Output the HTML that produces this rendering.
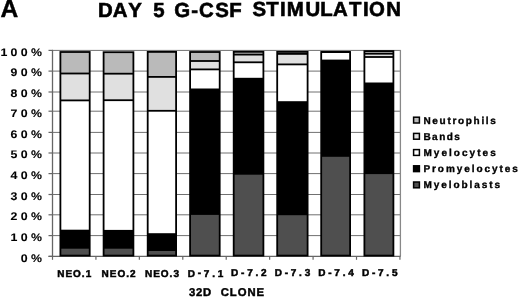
<!DOCTYPE html><html><head><meta charset="utf-8"><style>
html,body{margin:0;padding:0;background:#fff;width:520px;height:297px;overflow:hidden}
svg{display:block;will-change:transform}
text{font-family:"Liberation Sans",sans-serif;font-weight:bold;fill:#000;text-rendering:geometricPrecision}
</style></head><body>
<svg width="520" height="297" viewBox="0 0 520 297">
<line x1="52.5" y1="235.60" x2="400" y2="235.60" stroke="#707070" stroke-width="1.0"/>
<line x1="52.5" y1="214.80" x2="400" y2="214.80" stroke="#707070" stroke-width="1.0"/>
<line x1="52.5" y1="194.50" x2="400" y2="194.50" stroke="#707070" stroke-width="1.0"/>
<line x1="52.5" y1="173.60" x2="400" y2="173.60" stroke="#707070" stroke-width="1.0"/>
<line x1="52.5" y1="153.00" x2="400" y2="153.00" stroke="#707070" stroke-width="1.0"/>
<line x1="52.5" y1="132.40" x2="400" y2="132.40" stroke="#707070" stroke-width="1.0"/>
<line x1="52.5" y1="111.20" x2="400" y2="111.20" stroke="#707070" stroke-width="1.0"/>
<line x1="52.5" y1="92.00" x2="400" y2="92.00" stroke="#707070" stroke-width="1.0"/>
<line x1="52.5" y1="71.10" x2="400" y2="71.10" stroke="#707070" stroke-width="1.0"/>
<line x1="52.5" y1="50.40" x2="400" y2="50.40" stroke="#707070" stroke-width="1.0"/>
<line x1="400.4" y1="49.90" x2="400.4" y2="256.4" stroke="#888" stroke-width="1.3"/>
<line x1="48.5" y1="256.40" x2="52.5" y2="256.40" stroke="#666" stroke-width="1.2"/>
<line x1="48.5" y1="235.60" x2="52.5" y2="235.60" stroke="#666" stroke-width="1.2"/>
<line x1="48.5" y1="214.80" x2="52.5" y2="214.80" stroke="#666" stroke-width="1.2"/>
<line x1="48.5" y1="194.50" x2="52.5" y2="194.50" stroke="#666" stroke-width="1.2"/>
<line x1="48.5" y1="173.60" x2="52.5" y2="173.60" stroke="#666" stroke-width="1.2"/>
<line x1="48.5" y1="153.00" x2="52.5" y2="153.00" stroke="#666" stroke-width="1.2"/>
<line x1="48.5" y1="132.40" x2="52.5" y2="132.40" stroke="#666" stroke-width="1.2"/>
<line x1="48.5" y1="111.20" x2="52.5" y2="111.20" stroke="#666" stroke-width="1.2"/>
<line x1="48.5" y1="92.00" x2="52.5" y2="92.00" stroke="#666" stroke-width="1.2"/>
<line x1="48.5" y1="71.10" x2="52.5" y2="71.10" stroke="#666" stroke-width="1.2"/>
<line x1="48.5" y1="50.40" x2="52.5" y2="50.40" stroke="#666" stroke-width="1.2"/>
<line x1="52.5" y1="49.80" x2="52.5" y2="256.8" stroke="#666" stroke-width="1.3"/>
<line x1="48.5" y1="256.4" x2="400.6" y2="256.4" stroke="#666" stroke-width="1.3"/>
<line x1="52.50" y1="256.4" x2="52.50" y2="259.8" stroke="#666" stroke-width="1.2"/>
<line x1="95.93" y1="256.4" x2="95.93" y2="259.8" stroke="#666" stroke-width="1.2"/>
<line x1="139.36" y1="256.4" x2="139.36" y2="259.8" stroke="#666" stroke-width="1.2"/>
<line x1="182.79" y1="256.4" x2="182.79" y2="259.8" stroke="#666" stroke-width="1.2"/>
<line x1="226.22" y1="256.4" x2="226.22" y2="259.8" stroke="#666" stroke-width="1.2"/>
<line x1="269.65" y1="256.4" x2="269.65" y2="259.8" stroke="#666" stroke-width="1.2"/>
<line x1="313.08" y1="256.4" x2="313.08" y2="259.8" stroke="#666" stroke-width="1.2"/>
<line x1="356.51" y1="256.4" x2="356.51" y2="259.8" stroke="#666" stroke-width="1.2"/>
<line x1="399.94" y1="256.4" x2="399.94" y2="259.8" stroke="#666" stroke-width="1.2"/>
<rect x="60.40" y="52.00" width="29.30" height="21.50" fill="#bababa"/>
<rect x="60.40" y="73.50" width="29.30" height="26.90" fill="#e0e0e0"/>
<rect x="60.40" y="100.40" width="29.30" height="130.20" fill="#ffffff"/>
<rect x="60.40" y="230.60" width="29.30" height="17.20" fill="#000"/>
<rect x="60.40" y="247.80" width="29.30" height="7.80" fill="#4f4f4f"/>
<line x1="60.40" y1="73.50" x2="89.70" y2="73.50" stroke="#000" stroke-width="1.8"/>
<line x1="60.40" y1="100.40" x2="89.70" y2="100.40" stroke="#000" stroke-width="1.8"/>
<line x1="60.40" y1="230.60" x2="89.70" y2="230.60" stroke="#000" stroke-width="1.8"/>
<line x1="60.40" y1="247.80" x2="89.70" y2="247.80" stroke="#000" stroke-width="1.8"/>
<rect x="60.40" y="52.00" width="29.30" height="203.60" fill="none" stroke="#000" stroke-width="1.8"/>
<rect x="103.60" y="52.20" width="29.80" height="21.50" fill="#bababa"/>
<rect x="103.60" y="73.70" width="29.80" height="26.50" fill="#e0e0e0"/>
<rect x="103.60" y="100.20" width="29.80" height="130.60" fill="#ffffff"/>
<rect x="103.60" y="230.80" width="29.80" height="17.00" fill="#000"/>
<rect x="103.60" y="247.80" width="29.80" height="7.80" fill="#4f4f4f"/>
<line x1="103.60" y1="73.70" x2="133.40" y2="73.70" stroke="#000" stroke-width="1.8"/>
<line x1="103.60" y1="100.20" x2="133.40" y2="100.20" stroke="#000" stroke-width="1.8"/>
<line x1="103.60" y1="230.80" x2="133.40" y2="230.80" stroke="#000" stroke-width="1.8"/>
<line x1="103.60" y1="247.80" x2="133.40" y2="247.80" stroke="#000" stroke-width="1.8"/>
<rect x="103.60" y="52.20" width="29.80" height="203.40" fill="none" stroke="#000" stroke-width="1.8"/>
<rect x="147.70" y="51.90" width="28.40" height="25.00" fill="#bababa"/>
<rect x="147.70" y="76.90" width="28.40" height="33.90" fill="#e0e0e0"/>
<rect x="147.70" y="110.80" width="28.40" height="123.30" fill="#ffffff"/>
<rect x="147.70" y="234.10" width="28.40" height="16.00" fill="#000"/>
<rect x="147.70" y="250.10" width="28.40" height="5.50" fill="#4f4f4f"/>
<line x1="147.70" y1="76.90" x2="176.10" y2="76.90" stroke="#000" stroke-width="1.8"/>
<line x1="147.70" y1="110.80" x2="176.10" y2="110.80" stroke="#000" stroke-width="1.8"/>
<line x1="147.70" y1="234.10" x2="176.10" y2="234.10" stroke="#000" stroke-width="1.8"/>
<line x1="147.70" y1="250.10" x2="176.10" y2="250.10" stroke="#000" stroke-width="1.8"/>
<rect x="147.70" y="51.90" width="28.40" height="203.70" fill="none" stroke="#000" stroke-width="1.8"/>
<rect x="190.10" y="52.00" width="29.60" height="9.00" fill="#bababa"/>
<rect x="190.10" y="61.00" width="29.60" height="8.40" fill="#e0e0e0"/>
<rect x="190.10" y="69.40" width="29.60" height="20.00" fill="#ffffff"/>
<rect x="190.10" y="89.40" width="29.60" height="124.60" fill="#000"/>
<rect x="190.10" y="214.00" width="29.60" height="41.60" fill="#4f4f4f"/>
<line x1="190.10" y1="61.00" x2="219.70" y2="61.00" stroke="#000" stroke-width="1.8"/>
<line x1="190.10" y1="69.40" x2="219.70" y2="69.40" stroke="#000" stroke-width="1.8"/>
<line x1="190.10" y1="89.40" x2="219.70" y2="89.40" stroke="#000" stroke-width="1.8"/>
<line x1="190.10" y1="214.00" x2="219.70" y2="214.00" stroke="#000" stroke-width="1.8"/>
<rect x="190.10" y="52.00" width="29.60" height="203.60" fill="none" stroke="#000" stroke-width="1.8"/>
<rect x="233.70" y="51.80" width="29.70" height="2.80" fill="#bababa"/>
<rect x="233.70" y="54.60" width="29.70" height="7.70" fill="#e0e0e0"/>
<rect x="233.70" y="62.30" width="29.70" height="16.40" fill="#ffffff"/>
<rect x="233.70" y="78.70" width="29.70" height="95.10" fill="#000"/>
<rect x="233.70" y="173.80" width="29.70" height="81.80" fill="#4f4f4f"/>
<line x1="233.70" y1="54.60" x2="263.40" y2="54.60" stroke="#000" stroke-width="1.8"/>
<line x1="233.70" y1="62.30" x2="263.40" y2="62.30" stroke="#000" stroke-width="1.8"/>
<line x1="233.70" y1="78.70" x2="263.40" y2="78.70" stroke="#000" stroke-width="1.8"/>
<line x1="233.70" y1="173.80" x2="263.40" y2="173.80" stroke="#000" stroke-width="1.8"/>
<rect x="233.70" y="51.80" width="29.70" height="203.80" fill="none" stroke="#000" stroke-width="1.8"/>
<rect x="277.20" y="51.90" width="30.40" height="2.00" fill="#bababa"/>
<rect x="277.20" y="53.90" width="30.40" height="10.50" fill="#e0e0e0"/>
<rect x="277.20" y="64.40" width="30.40" height="37.70" fill="#ffffff"/>
<rect x="277.20" y="102.10" width="30.40" height="112.20" fill="#000"/>
<rect x="277.20" y="214.30" width="30.40" height="41.30" fill="#4f4f4f"/>
<line x1="277.20" y1="53.90" x2="307.60" y2="53.90" stroke="#000" stroke-width="1.8"/>
<line x1="277.20" y1="64.40" x2="307.60" y2="64.40" stroke="#000" stroke-width="1.8"/>
<line x1="277.20" y1="102.10" x2="307.60" y2="102.10" stroke="#000" stroke-width="1.8"/>
<line x1="277.20" y1="214.30" x2="307.60" y2="214.30" stroke="#000" stroke-width="1.8"/>
<rect x="277.20" y="51.90" width="30.40" height="203.70" fill="none" stroke="#000" stroke-width="1.8"/>
<rect x="321.20" y="52.00" width="28.90" height="8.50" fill="#ffffff"/>
<rect x="321.20" y="60.50" width="28.90" height="95.40" fill="#000"/>
<rect x="321.20" y="155.90" width="28.90" height="99.70" fill="#4f4f4f"/>
<line x1="321.20" y1="52.00" x2="350.10" y2="52.00" stroke="#000" stroke-width="1.8"/>
<line x1="321.20" y1="52.00" x2="350.10" y2="52.00" stroke="#000" stroke-width="1.8"/>
<line x1="321.20" y1="60.50" x2="350.10" y2="60.50" stroke="#000" stroke-width="1.8"/>
<line x1="321.20" y1="155.90" x2="350.10" y2="155.90" stroke="#000" stroke-width="1.8"/>
<rect x="321.20" y="52.00" width="28.90" height="203.60" fill="none" stroke="#000" stroke-width="1.8"/>
<rect x="364.40" y="51.10" width="29.00" height="2.60" fill="#bababa"/>
<rect x="364.40" y="53.70" width="29.00" height="3.30" fill="#e0e0e0"/>
<rect x="364.40" y="57.00" width="29.00" height="26.40" fill="#ffffff"/>
<rect x="364.40" y="83.40" width="29.00" height="89.80" fill="#000"/>
<rect x="364.40" y="173.20" width="29.00" height="82.40" fill="#4f4f4f"/>
<line x1="364.40" y1="53.70" x2="393.40" y2="53.70" stroke="#000" stroke-width="1.8"/>
<line x1="364.40" y1="57.00" x2="393.40" y2="57.00" stroke="#000" stroke-width="1.8"/>
<line x1="364.40" y1="83.40" x2="393.40" y2="83.40" stroke="#000" stroke-width="1.8"/>
<line x1="364.40" y1="173.20" x2="393.40" y2="173.20" stroke="#000" stroke-width="1.8"/>
<rect x="364.40" y="51.10" width="29.00" height="204.50" fill="none" stroke="#000" stroke-width="1.8"/>
<text transform="translate(45.36,261.70) scale(1.12,1)" x="0" y="0" text-anchor="end" style="font-size:11.0px;letter-spacing:3.0px" stroke="#000" stroke-width="0.1">0%</text>
<text transform="translate(45.36,240.90) scale(1.12,1)" x="0" y="0" text-anchor="end" style="font-size:11.0px;letter-spacing:3.0px" stroke="#000" stroke-width="0.1">10%</text>
<text transform="translate(45.36,220.10) scale(1.12,1)" x="0" y="0" text-anchor="end" style="font-size:11.0px;letter-spacing:3.0px" stroke="#000" stroke-width="0.1">20%</text>
<text transform="translate(45.36,199.80) scale(1.12,1)" x="0" y="0" text-anchor="end" style="font-size:11.0px;letter-spacing:3.0px" stroke="#000" stroke-width="0.1">30%</text>
<text transform="translate(45.36,178.90) scale(1.12,1)" x="0" y="0" text-anchor="end" style="font-size:11.0px;letter-spacing:3.0px" stroke="#000" stroke-width="0.1">40%</text>
<text transform="translate(45.36,158.30) scale(1.12,1)" x="0" y="0" text-anchor="end" style="font-size:11.0px;letter-spacing:3.0px" stroke="#000" stroke-width="0.1">50%</text>
<text transform="translate(45.36,137.70) scale(1.12,1)" x="0" y="0" text-anchor="end" style="font-size:11.0px;letter-spacing:3.0px" stroke="#000" stroke-width="0.1">60%</text>
<text transform="translate(45.36,116.50) scale(1.12,1)" x="0" y="0" text-anchor="end" style="font-size:11.0px;letter-spacing:3.0px" stroke="#000" stroke-width="0.1">70%</text>
<text transform="translate(45.36,97.30) scale(1.12,1)" x="0" y="0" text-anchor="end" style="font-size:11.0px;letter-spacing:3.0px" stroke="#000" stroke-width="0.1">80%</text>
<text transform="translate(45.36,76.40) scale(1.12,1)" x="0" y="0" text-anchor="end" style="font-size:11.0px;letter-spacing:3.0px" stroke="#000" stroke-width="0.1">90%</text>
<text transform="translate(45.36,55.70) scale(1.12,1)" x="0" y="0" text-anchor="end" style="font-size:11.0px;letter-spacing:3.0px" stroke="#000" stroke-width="0.1">100%</text>
<text x="74.72" y="277.10" text-anchor="middle" style="font-size:10px;letter-spacing:1.0px" stroke="#000" stroke-width="0.5">NEO.1</text>
<text x="119.05" y="276.94" text-anchor="middle" style="font-size:10px;letter-spacing:1.0px" stroke="#000" stroke-width="0.5">NEO.2</text>
<text x="162.47" y="276.78" text-anchor="middle" style="font-size:10px;letter-spacing:1.0px" stroke="#000" stroke-width="0.5">NEO.3</text>
<text x="206.88" y="276.63" text-anchor="middle" style="font-size:10px;letter-spacing:2.75px" stroke="#000" stroke-width="0.5">D<tspan dy="-0.4">-</tspan><tspan dy="0.4">7.1</tspan></text>
<text x="250.21" y="276.47" text-anchor="middle" style="font-size:10px;letter-spacing:2.75px" stroke="#000" stroke-width="0.5">D<tspan dy="-0.4">-</tspan><tspan dy="0.4">7.2</tspan></text>
<text x="293.84" y="276.31" text-anchor="middle" style="font-size:10px;letter-spacing:2.75px" stroke="#000" stroke-width="0.5">D<tspan dy="-0.4">-</tspan><tspan dy="0.4">7.3</tspan></text>
<text x="337.37" y="276.16" text-anchor="middle" style="font-size:10px;letter-spacing:2.75px" stroke="#000" stroke-width="0.5">D<tspan dy="-0.4">-</tspan><tspan dy="0.4">7.4</tspan></text>
<text x="381.10" y="276.00" text-anchor="middle" style="font-size:10px;letter-spacing:2.75px" stroke="#000" stroke-width="0.5">D<tspan dy="-0.4">-</tspan><tspan dy="0.4">7.5</tspan></text>
<text x="189" y="295.9" style="font-size:11.3px;letter-spacing:0.75px" stroke="#000" stroke-width="0.45">32D</text>
<text x="220.7" y="295.9" style="font-size:11.3px;letter-spacing:0.95px" stroke="#000" stroke-width="0.45">CLONE</text>
<text x="98.03" y="16.91" style="font-size:20.4px" stroke="#000" stroke-width="0.6">D</text>
<text x="112.69" y="16.86" style="font-size:20.4px" stroke="#000" stroke-width="0.6">A</text>
<text x="128.15" y="16.81" style="font-size:20.4px" stroke="#000" stroke-width="0.6">Y</text>
<text x="153.37" y="16.73" style="font-size:20.4px" stroke="#000" stroke-width="0.6">5</text>
<text x="174.26" y="16.67" style="font-size:20.4px" stroke="#000" stroke-width="0.6">G</text>
<text x="191.20" y="16.62" style="font-size:20.4px" stroke="#000" stroke-width="0.6">-</text>
<text x="199.06" y="16.59" style="font-size:20.4px" stroke="#000" stroke-width="0.6">C</text>
<text x="215.21" y="16.54" style="font-size:20.4px" stroke="#000" stroke-width="0.6">S</text>
<text x="229.33" y="16.50" style="font-size:20.4px" stroke="#000" stroke-width="0.6">F</text>
<text x="252.51" y="16.43" style="font-size:20.4px" stroke="#000" stroke-width="0.6">S</text>
<text x="266.33" y="16.38" style="font-size:20.4px" stroke="#000" stroke-width="0.6">T</text>
<text x="280.03" y="16.34" style="font-size:20.4px" stroke="#000" stroke-width="0.6">I</text>
<text x="286.83" y="16.32" style="font-size:20.4px" stroke="#000" stroke-width="0.6">M</text>
<text x="305.38" y="16.26" style="font-size:20.4px" stroke="#000" stroke-width="0.6">U</text>
<text x="320.13" y="16.22" style="font-size:20.4px" stroke="#000" stroke-width="0.6">L</text>
<text x="332.89" y="16.18" style="font-size:20.4px" stroke="#000" stroke-width="0.6">A</text>
<text x="348.88" y="16.13" style="font-size:20.4px" stroke="#000" stroke-width="0.6">T</text>
<text x="363.03" y="16.08" style="font-size:20.4px" stroke="#000" stroke-width="0.6">I</text>
<text x="369.06" y="16.06" style="font-size:20.4px" stroke="#000" stroke-width="0.6">O</text>
<text x="386.13" y="16.01" style="font-size:20.4px" stroke="#000" stroke-width="0.6">N</text>
<text x="0.4" y="17.4" style="font-size:24.6px" stroke="#000" stroke-width="0.4">A</text>
<rect x="413.6" y="117.20" width="5.8" height="5.8" fill="#bababa" stroke="#000" stroke-width="1.5"/>
<text x="423.43" y="123.60" style="font-size:10px;letter-spacing:1.69px" stroke="#000" stroke-width="0.35">Neutrophils</text>
<rect x="413.6" y="133.40" width="5.8" height="5.8" fill="#e0e0e0" stroke="#000" stroke-width="1.5"/>
<text x="423.43" y="139.80" style="font-size:10px;letter-spacing:1.47px" stroke="#000" stroke-width="0.35">Bands</text>
<rect x="413.6" y="149.60" width="5.8" height="5.8" fill="#ffffff" stroke="#000" stroke-width="1.5"/>
<text x="423.43" y="156.00" style="font-size:10px;letter-spacing:2.04px" stroke="#000" stroke-width="0.35">Myelocytes</text>
<rect x="413.6" y="165.80" width="5.8" height="5.8" fill="#000" stroke="#000" stroke-width="1.5"/>
<text x="423.43" y="172.20" style="font-size:10px;letter-spacing:1.94px" stroke="#000" stroke-width="0.35">Promyelocytes</text>
<rect x="413.6" y="182.00" width="5.8" height="5.8" fill="#4f4f4f" stroke="#000" stroke-width="1.5"/>
<text x="423.43" y="188.40" style="font-size:10px;letter-spacing:1.94px" stroke="#000" stroke-width="0.35">Myeloblasts</text>
</svg></body></html>
